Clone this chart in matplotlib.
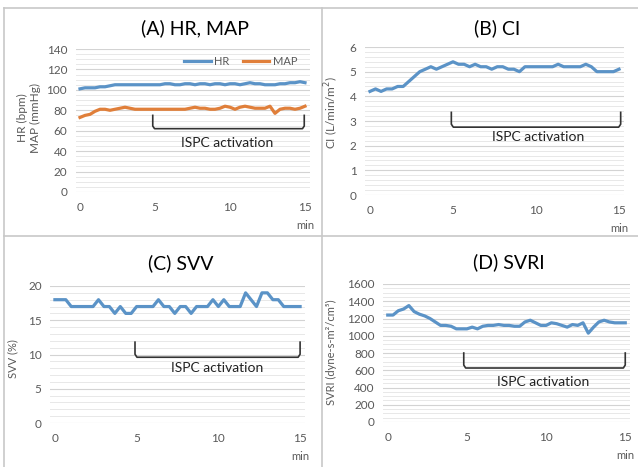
import numpy as np
import matplotlib.pyplot as plt
from matplotlib.lines import Line2D
from matplotlib.ticker import MultipleLocator

plt.rcParams['font.family'] = ['Lato', 'DejaVu Sans']

# time axis: one sample every 20 s, 0..15 min
minutes = np.arange(46) / 3.0

hr = [101, 102, 102, 102, 103, 103, 104, 105, 105,
      105, 105, 105, 105, 105, 105, 105, 105, 106, 106, 105, 105, 106, 106, 105,
      106, 106, 105, 106, 106, 105, 106, 106, 105, 106, 107, 106, 106, 105, 105,
      105, 106, 106, 107, 107, 108, 107]
map_ = [73, 75, 76, 79, 81, 81, 80, 81, 82, 83, 82, 81, 81, 81, 81, 81, 81, 81,
        81, 81, 81, 81, 82, 83, 82, 82, 81, 81, 82, 84, 83, 81, 83, 84, 83, 82,
        82, 82, 84, 77, 81, 82, 82, 81, 82, 84]
ci = [4.2, 4.3, 4.2, 4.3, 4.3, 4.4, 4.4, 4.6, 4.8, 5.0, 5.1, 5.2, 5.1, 5.2, 5.3, 5.4,
      5.3, 5.3, 5.2, 5.3, 5.2, 5.2, 5.1, 5.2, 5.2, 5.1, 5.1, 5.0, 5.2, 5.2, 5.2,
      5.2, 5.2, 5.2, 5.3, 5.2, 5.2, 5.2, 5.2, 5.3, 5.2, 5.0, 5.0, 5.0, 5.0, 5.1]
svv = [18, 18, 18, 17, 17, 17, 17, 17, 18, 17, 17, 16, 17, 16, 16, 17, 17, 17,
       17, 18, 17, 17, 16, 17, 17, 16, 17, 17, 17, 18, 17, 18, 17, 17, 17, 19,
       18, 17, 19, 19, 18, 18, 17, 17, 17, 17]
svri = [1240, 1240, 1290, 1310, 1350, 1280, 1250, 1230, 1200, 1160, 1120, 1120,
        1110, 1080, 1080, 1080, 1100, 1080, 1110, 1120, 1120, 1130, 1120, 1120,
        1110, 1110, 1160, 1180, 1150, 1120, 1120, 1150, 1140, 1120, 1100, 1130,
        1120, 1150, 1030, 1100, 1160, 1180, 1160, 1150, 1150, 1150]

xticks = [0, 5, 10, 15]

BLUE = '#5b93c7'
ORANGE = '#e07f3a'
GRAY = '#595959'

W, H = 638, 467
fig = plt.figure(figsize=(W / 100, H / 100), dpi=100)


def make_ax(left, right, top, bottom):
    return fig.add_axes([left / W, 1 - bottom / H, (right - left) / W, (bottom - top) / H])


def style(ax, ymax, major, minor):
    ax.set_xlim(-0.3, 15.3)
    ax.set_ylim(0, ymax)
    ax.set_xticks(xticks)
    ax.yaxis.set_major_locator(MultipleLocator(major))
    ax.yaxis.set_minor_locator(MultipleLocator(minor))
    ax.grid(axis='y', which='major', color='#d3d3d3', lw=0.8)
    ax.grid(axis='y', which='minor', color='#e8e8e8', lw=0.7)
    ax.set_axisbelow(True)
    for s in ax.spines.values():
        s.set_visible(False)
    ax.tick_params(which='both', length=0, labelsize=8.5, labelcolor=GRAY)
    ax.tick_params(axis='x', pad=7)
    ax.tick_params(axis='y', pad=6)
    ax.annotate('min', xy=(15, 0), xycoords=('data', 'axes fraction'),
                xytext=(0, -20), textcoords='offset points', ha='center',
                va='top', fontsize=8, color=GRAY)


def bracket(ax, x0, x1, top, bot, ty, tx):
    d = (top - bot) * 0.2
    ax.plot([x0, x0, x0 + 0.12, x1 - 0.12, x1, x1],
            [top, bot + d, bot, bot, bot + d, top], color='#333333', lw=1.2)
    ax.text(tx, ty, 'ISPC activation', ha='center', va='center', fontsize=10,
            color='#222222')


# (A) HR, MAP
axA = make_ax(75.5, 309.5, 49, 192)
axA.plot(minutes, hr, color=BLUE, lw=2.3, label='HR')
axA.plot(minutes, map_, color=ORANGE, lw=2.3, label='MAP')
style(axA, 140, 20, 5)
bracket(axA, 4.85, 14.95, 75, 62, 48, 9.8)
axA.legend(loc='upper right', bbox_to_anchor=(0.99, 1.02), ncol=2, frameon=False,
           fontsize=8, labelcolor=GRAY, handlelength=2.4, columnspacing=1.2,
           handletextpad=0.3)
fig.text(22 / W, 1 - 118 / H, 'HR (bpm)', rotation=90, ha='center', va='center',
         fontsize=8.5, color=GRAY)
fig.text(35 / W, 1 - 118 / H, 'MAP (mmHg)', rotation=90, ha='center', va='center',
         fontsize=8.5, color=GRAY)
fig.text(195 / W, 1 - 28 / H, '(A) HR, MAP', ha='center', va='center', fontsize=14)

# (B) CI
axB = make_ax(365, 624, 47, 195)
axB.plot(minutes, ci, color=BLUE, lw=2.3)
style(axB, 6, 1, 0.2)
bracket(axB, 4.9, 15.1, 3.35, 2.75, 2.35, 10.1)
fig.text(332 / W, 1 - 113 / H, 'CI (L/min/m$^2$)', rotation=90, ha='center',
         va='center', fontsize=8.5, color=GRAY)
fig.text(497 / W, 1 - 28 / H, '(B) CI', ha='center', va='center', fontsize=14)

# (C) SVV
axC = make_ax(50, 305, 286, 423)
axC.plot(minutes, svv, color=BLUE, lw=2.3)
style(axC, 20, 5, 1)
bracket(axC, 4.9, 15, 11.8, 9.6, 8.0, 9.95)
fig.text(13 / W, 1 - 359 / H, 'SVV (%)', rotation=90, ha='center', va='center',
         fontsize=8, color=GRAY)
fig.text(181 / W, 1 - 263 / H, '(C) SVV', ha='center', va='center', fontsize=14)

# (D) SVRI
axD = make_ax(383, 630, 284, 422)
axD.plot(minutes, svri, color=BLUE, lw=2.3)
style(axD, 1600, 200, 50)
bracket(axD, 4.8, 15, 800, 626, 464, 9.8)
fig.text(331 / W, 1 - 352 / H, 'SVRI (dyne-s-m²/cm⁵)', rotation=90, ha='center',
         va='center', fontsize=8, color=GRAY)
fig.text(509 / W, 1 - 262 / H, '(D) SVRI', ha='center', va='center', fontsize=14)

# panel frames
for xs, ys in [((4, 638), (8, 8)), ((4, 4), (8, 467)), ((322, 322), (8, 467)),
               ((4, 638), (236, 236))]:
    fig.add_artist(Line2D([x / W for x in xs], [1 - y / H for y in ys],
                          color='#c8c8c8', lw=1.2))

fig.savefig('out.png', dpi=100)
